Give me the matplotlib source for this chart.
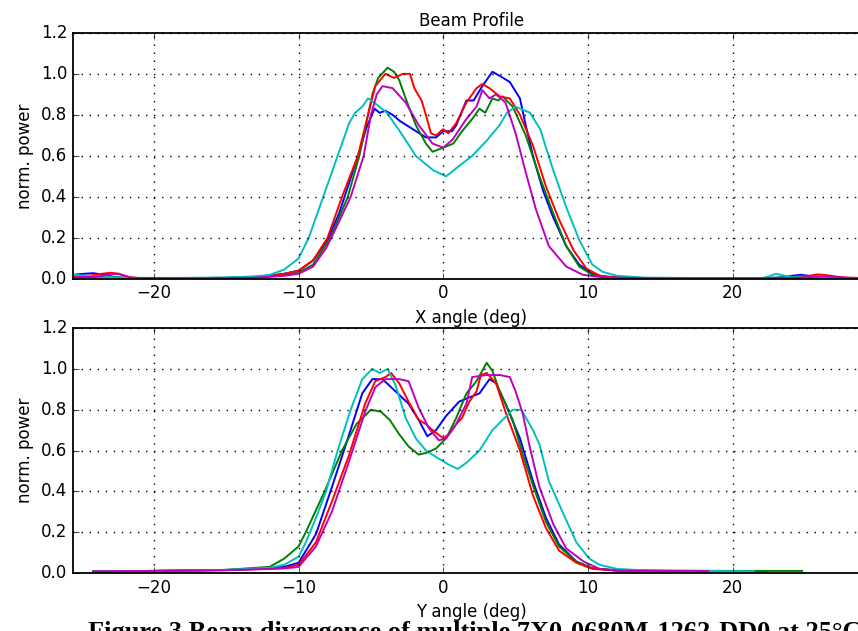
import matplotlib
matplotlib.use('Agg')
import matplotlib.pyplot as plt

plt.style.use('classic')

# ---- top panel: X angle scans (b, g, r, c, m)
top_x_b = [-27, -25.6, -24.8, -24.2, -23.5, -22.8, -22, -21, -18, -15, -13, -12, -11, -10, -9, -8, -7.2, -6.5, -5.8, -5.3,
           -4.75, -4.4, -4.0, -3.5, -3.0, -2.1, -1.2, -0.5, 0, 0.6, 0.9, 1.6, 2.1, 2.7, 3.4, 3.9, 4.6, 5.3, 5.7, 6.2,
           6.9, 7.6, 8.5, 9.4, 10.3, 11, 12, 14, 18, 22, 23.5, 24.2, 24.7, 25.3, 26, 27, 28, 30]
top_y_b = [0.02, 0.02, 0.025, 0.028, 0.02, 0.01, 0.004, 0.003, 0.004, 0.005, 0.01, 0.016, 0.025, 0.04, 0.09, 0.19, 0.32, 0.47, 0.62, 0.74,
           0.83, 0.81, 0.82, 0.80, 0.77, 0.73, 0.69, 0.69, 0.72, 0.72, 0.75, 0.87, 0.87, 0.94, 1.01, 0.99, 0.96, 0.88, 0.75, 0.60,
           0.43, 0.30, 0.16, 0.07, 0.025, 0.012, 0.006, 0.004, 0.003, 0.003, 0.008, 0.016, 0.02, 0.015, 0.01, 0.006, 0.004, 0.003]

top_x_g = [-27, -25.6, -24.5, -23.5, -22.5, -21.5, -18, -15, -13, -12, -11, -10, -9, -7.8, -6.6, -5.8, -5.2, -4.9, -4.5, -3.85,
           -3.4, -3.05, -2.6, -1.9, -1.2, -0.74, 0, 0.7, 1.3, 2.0, 2.5, 2.9, 3.4, 3.8, 4.1, 4.8, 5.7, 6.65, 7.6, 8.5,
           9.4, 10.3, 11, 12, 14, 18, 22, 24, 24.6, 25.2, 26, 27, 30]
top_y_g = [0.02, 0.015, 0.012, 0.01, 0.008, 0.004, 0.004, 0.005, 0.008, 0.012, 0.02, 0.03, 0.07, 0.2, 0.4, 0.6, 0.8, 0.9, 0.98, 1.03,
           1.01, 0.97, 0.88, 0.75, 0.66, 0.62, 0.64, 0.66, 0.72, 0.78, 0.83, 0.81, 0.88, 0.87, 0.89, 0.84, 0.70, 0.50, 0.32, 0.16,
           0.06, 0.02, 0.01, 0.006, 0.004, 0.003, 0.003, 0.008, 0.015, 0.012, 0.007, 0.004, 0.003]

top_x_r = [-27, -25.6, -24.5, -23.6, -23.0, -22.4, -21.8, -21, -18, -15, -13, -12, -11, -10, -9, -8, -7.0, -5.9, -5.2, -4.7,
           -4.0, -3.4, -2.8, -2.3, -2.0, -1.5, -1.2, -0.85, -0.5, 0, 0.35, 0.9, 1.6, 2.3, 2.7, 3.2, 3.9, 4.6, 5.3, 6.2,
           7.1, 8.0, 9.0, 9.9, 10.8, 12, 14, 18, 22, 24.5, 25.3, 25.9, 26.5, 27.3, 28, 30]
top_y_r = [0.015, 0.012, 0.015, 0.025, 0.03, 0.025, 0.01, 0.004, 0.004, 0.005, 0.01, 0.015, 0.025, 0.04, 0.09, 0.2, 0.4, 0.6, 0.8, 0.94,
           1.0, 0.98, 1.0, 1.0, 0.93, 0.87, 0.80, 0.71, 0.70, 0.73, 0.71, 0.76, 0.86, 0.93, 0.95, 0.93, 0.89, 0.88, 0.80, 0.65,
           0.45, 0.29, 0.14, 0.05, 0.016, 0.007, 0.004, 0.003, 0.003, 0.006, 0.015, 0.022, 0.018, 0.01, 0.006, 0.003]

top_x_c = [-27, -25.6, -24.5, -23.5, -22, -18, -15, -13, -12, -11, -10, -9.3, -8.3, -7.3, -6.5, -6.1, -5.6, -5.2, -4.6, -3.9,
           -3.0, -1.9, -0.7, 0.2, 0.9, 2.0, 2.95, 3.9, 4.4, 5.0, 6.0, 6.7, 7.6, 8.5, 9.4, 10.3, 11, 12, 14, 18,
           22, 22.5, 23.0, 23.6, 24.2, 25, 27, 30]
top_y_c = [0.02, 0.02, 0.015, 0.01, 0.005, 0.005, 0.007, 0.012, 0.02, 0.045, 0.1, 0.2, 0.4, 0.6, 0.76, 0.81, 0.84, 0.88, 0.85, 0.81,
           0.72, 0.60, 0.53, 0.50, 0.54, 0.60, 0.67, 0.75, 0.81, 0.84, 0.81, 0.73, 0.53, 0.35, 0.19, 0.07, 0.035, 0.015, 0.006, 0.004,
           0.004, 0.012, 0.025, 0.015, 0.008, 0.006, 0.004, 0.003]

top_x_m = [-27, -25.6, -24, -23.2, -22.5, -22, -21.5, -18, -15, -13, -12, -11, -10, -9, -8.1, -7.4, -6.4, -5.5, -5.0, -4.6,
           -4.2, -3.5, -2.6, -1.7, -0.74, 0, 0.65, 1.6, 2.3, 2.7, 3.2, 3.65, 4.3, 5.0, 5.7, 6.4, 7.3, 8.5, 9.65, 11,
           14, 18, 22, 25, 26, 27, 28, 30]
top_y_m = [0.01, 0.008, 0.01, 0.02, 0.025, 0.015, 0.005, 0.003, 0.004, 0.006, 0.01, 0.015, 0.025, 0.06, 0.15, 0.25, 0.40, 0.60, 0.80, 0.90,
           0.94, 0.93, 0.86, 0.75, 0.66, 0.64, 0.68, 0.78, 0.84, 0.92, 0.88, 0.90, 0.86, 0.71, 0.52, 0.34, 0.16, 0.06, 0.02, 0.008,
           0.004, 0.003, 0.003, 0.006, 0.012, 0.01, 0.005, 0.003]

# ---- bottom panel: Y angle scans
bot_x_b = [-24.2, -20, -15, -12, -11, -10, -8.8, -7.7, -6.5, -5.6, -4.9, -4.2, -3.3, -2.4, -1.7, -1.1, -0.5, 0.2, 1.1, 1.8,
           2.5, 3.2, 3.65, 4.3, 5.3, 6.2, 7.1, 8.0, 9.2, 10.3, 12, 15, 18, 22.3]
bot_y_b = [0.008, 0.01, 0.015, 0.022, 0.03, 0.05, 0.19, 0.42, 0.68, 0.88, 0.95, 0.95, 0.89, 0.83, 0.75, 0.67, 0.70, 0.77, 0.84, 0.86,
           0.88, 0.95, 0.93, 0.83, 0.66, 0.45, 0.27, 0.14, 0.056, 0.023, 0.012, 0.01, 0.009, 0.008]

bot_x_g = [-24.2, -20, -15, -12, -11, -10, -9.5, -8.2, -7.0, -6.0, -5.0, -4.3, -3.7, -3.05, -2.4, -1.7, -1.1, -0.5, 0.2, 0.9,
           1.6, 2.3, 3.0, 3.4, 3.9, 4.8, 5.5, 6.2, 7.1, 8.0, 9.2, 10.3, 12, 15, 20, 24.8]
bot_y_g = [0.008, 0.01, 0.015, 0.03, 0.07, 0.13, 0.2, 0.4, 0.6, 0.73, 0.80, 0.79, 0.75, 0.68, 0.62, 0.58, 0.59, 0.61, 0.66, 0.76,
           0.88, 0.94, 1.03, 0.99, 0.89, 0.75, 0.58, 0.43, 0.25, 0.13, 0.056, 0.023, 0.013, 0.011, 0.01, 0.01]

bot_x_r = [-24.2, -20, -15, -12, -11, -10, -8.8, -7.7, -6.5, -5.4, -4.7, -4.0, -3.6, -3.05, -2.4, -1.7, -1.2, -0.74, 0, 0.4,
           0.9, 1.3, 1.8, 2.3, 2.6, 3.0, 3.65, 4.3, 5.3, 6.2, 7.1, 8.0, 9.2, 10.3, 12, 15, 18]
bot_y_r = [0.008, 0.01, 0.014, 0.02, 0.025, 0.04, 0.15, 0.35, 0.58, 0.83, 0.94, 0.96, 0.98, 0.93, 0.84, 0.75, 0.73, 0.70, 0.66, 0.68,
           0.73, 0.76, 0.84, 0.89, 0.97, 0.98, 0.93, 0.79, 0.60, 0.38, 0.22, 0.11, 0.05, 0.02, 0.011, 0.01, 0.009]

bot_x_c = [-24.2, -20, -15, -12, -11, -10, -9.5, -8.8, -8.1, -7.3, -6.4, -5.6, -4.9, -4.4, -3.85, -3.3, -2.6, -1.9, -1.2, -0.3,
           0.4, 1.0, 1.6, 2.5, 3.4, 4.1, 4.8, 5.4, 6.2, 6.65, 7.3, 8.3, 9.2, 10.1, 10.8, 12, 14, 18, 21.5]
bot_y_c = [0.008, 0.01, 0.015, 0.025, 0.04, 0.08, 0.15, 0.27, 0.4, 0.6, 0.8, 0.95, 1.0, 0.98, 1.0, 0.92, 0.76, 0.66, 0.60, 0.56,
           0.53, 0.51, 0.54, 0.60, 0.70, 0.75, 0.80, 0.80, 0.70, 0.63, 0.45, 0.29, 0.15, 0.07, 0.04, 0.02, 0.012, 0.01, 0.008]

bot_x_m = [-24.2, -20, -15, -12, -11, -10, -8.8, -7.7, -6.5, -5.4, -4.7, -4.0, -3.05, -2.4, -1.7, -1.0, -0.3, 0.2, 0.9, 1.6,
           2.0, 3.0, 3.9, 4.6, 5.0, 5.5, 6.0, 6.65, 7.6, 8.5, 9.7, 10.8, 12, 15, 18.3]
bot_y_m = [0.008, 0.01, 0.013, 0.02, 0.022, 0.03, 0.13, 0.30, 0.55, 0.79, 0.91, 0.95, 0.95, 0.94, 0.81, 0.71, 0.65, 0.66, 0.73, 0.83,
           0.96, 0.97, 0.97, 0.96, 0.89, 0.78, 0.61, 0.42, 0.24, 0.12, 0.056, 0.02, 0.012, 0.01, 0.009]

colors = ['b', 'g', 'r', 'c', 'm']
top_series = [(top_x_b, top_y_b), (top_x_g, top_y_g), (top_x_r, top_y_r), (top_x_c, top_y_c), (top_x_m, top_y_m)]
bot_series = [(bot_x_b, bot_y_b), (bot_x_g, bot_y_g), (bot_x_r, bot_y_r), (bot_x_c, bot_y_c), (bot_x_m, bot_y_m)]

xticks = [-20, -10, 0, 10, 20]
yticks = [0.0, 0.2, 0.4, 0.6, 0.8, 1.0, 1.2]

fig = plt.figure(figsize=(8.58, 6.31), dpi=100, facecolor='white')
ax1 = fig.add_axes([0.085, 0.558, 0.929, 0.390])
ax2 = fig.add_axes([0.085, 0.092, 0.929, 0.388])

for ax, series, xl in [(ax1, top_series, 'X angle (deg)'), (ax2, bot_series, 'Y angle (deg)')]:
    for (xs, ys), c in zip(series, colors):
        ax.plot(xs, ys, color=c, lw=1.4)
    ax.set_xlim(-25.6, 29.5)
    ax.set_ylim(0, 1.2)
    ax.set_xticks(xticks)
    ax.set_yticks(yticks)
    ax.grid(True, color='k', linestyle=(0, (1, 4.8)), lw=1.0)
    ax.set_xlabel(xl, fontsize=12)
    ax.set_ylabel('norm. power', fontsize=12)
    ax.tick_params(labelsize=12)
    for s in ax.spines.values():
        s.set_linewidth(1.3)
    ax.set_facecolor('white')

ax1.set_title('Beam Profile', fontsize=12)

# caption of the source document, only its upper half falls inside the picture
fig.text(88 / 858, 1 - 639 / 631, 'Figure 3 Beam divergence of multiple 7X0-0680M-1262-DD0 at 25°C',
         family='Liberation Serif', weight='bold', fontsize=19, ha='left', va='baseline')

fig.savefig('out.png', dpi=100, facecolor='white')
